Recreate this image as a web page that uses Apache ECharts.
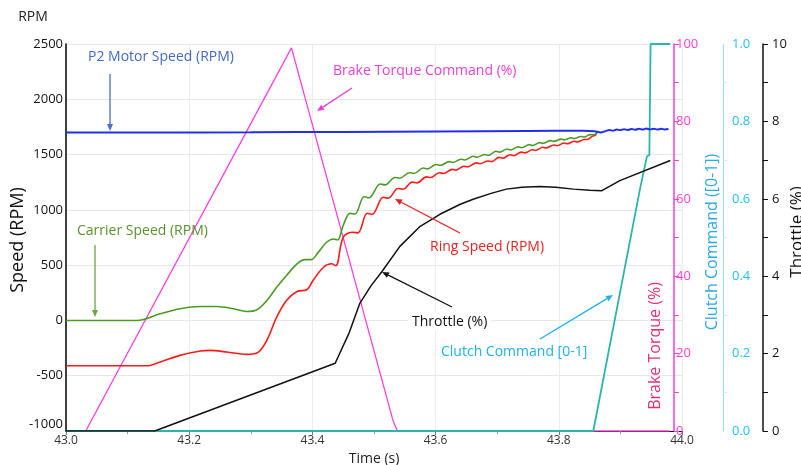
<!DOCTYPE html>
<html>
<head>
<meta charset="utf-8">
<script src="https://cdn.jsdelivr.net/npm/echarts@6/dist/echarts.min.js"></script>
<style>
  html, body { margin: 0; padding: 0; background: #fff; }
  #chart { width: 801px; height: 465px; }
</style>
</head>
<body>
<div id="chart"></div>
<script>
// ---- time axis ticks ----
const timeMin = 43.0, timeMax = 44.0, timeStep = 0.2;

// ---- P2 motor speed (RPM) ----
const motorSpeed = [
  [43.000,1700],[43.150,1700],[43.300,1702],[43.450,1705],[43.600,1709],[43.750,1713],
  [43.840,1716],[43.858,1712],[43.868,1700],[43.876,1712],[43.882,1722],[43.888,1716],
  [43.894,1727],[43.900,1720],[43.906,1730],[43.912,1722],[43.918,1732],[43.924,1724],
  [43.930,1734],[43.936,1726],[43.942,1735],[43.948,1727],[43.954,1734],[43.960,1726],
  [43.966,1733],[43.972,1727],[43.978,1731]
];

// ---- carrier speed (RPM) ----
const carrierSpeed = [
  [43.000,0],[43.115,0],[43.153,60],[43.185,105],[43.218,126],[43.245,126],[43.272,105],
  [43.293,81],[43.310,97],[43.326,180],[43.342,300],[43.358,406],[43.375,512],[43.388,550],
  [43.398,550],[43.410,620],[43.423,707],[43.434,737],[43.441,728],[43.450,860],[43.461,968],
  [43.469,962],[43.484,1119],[43.492,1110],[43.510,1234],[43.518,1226],[43.534,1293],
  [43.542,1286],[43.557,1336],[43.565,1329],[43.580,1378],[43.587,1371],[43.601,1410],
  [43.608,1403],[43.622,1436],[43.628,1428],[43.641,1458],[43.647,1451],[43.661,1485],
  [43.667,1476],[43.680,1500],[43.686,1494],[43.698,1530],[43.704,1522],[43.716,1550],
  [43.722,1542],[43.734,1570],[43.740,1562],[43.752,1590],[43.757,1582],[43.769,1608],
  [43.774,1601],[43.787,1626],[43.792,1619],[43.804,1640],[43.809,1633],[43.820,1652],
  [43.825,1645],[43.836,1664],[43.841,1659],[43.851,1680],[43.856,1678],[43.862,1700]
];

// ---- ring speed (RPM) ----
const ringSpeed = [
  [43.000,-410],[43.131,-410],[43.153,-376],[43.185,-316],[43.218,-277],[43.234,-271],
  [43.261,-286],[43.293,-307],[43.310,-295],[43.326,-180],[43.342,30],[43.358,180],
  [43.375,262],[43.391,277],[43.401,361],[43.418,481],[43.431,512],[43.438,495],
  [43.450,752],[43.466,798],[43.474,792],[43.489,969],[43.497,960],[43.515,1114],
  [43.523,1106],[43.539,1193],[43.547,1187],[43.562,1251],[43.570,1244],[43.585,1298],
  [43.592,1292],[43.606,1335],[43.613,1329],[43.627,1366],[43.633,1359],[43.646,1395],
  [43.652,1389],[43.666,1425],[43.672,1417],[43.685,1442],[43.691,1436],[43.703,1475],
  [43.709,1467],[43.721,1498],[43.727,1490],[43.739,1522],[43.745,1515],[43.757,1544],
  [43.762,1537],[43.774,1566],[43.779,1559],[43.792,1587],[43.797,1580],[43.809,1604],
  [43.814,1598],[43.825,1620],[43.830,1614],[43.841,1636],[43.846,1637],[43.855,1668],
  [43.859,1674],[43.862,1700]
];

// ---- brake torque command (%) ----
const brakeTorque = [
  [43.000,0],[43.032,0],[43.366,99],[43.531,2.6],[43.534,2.2],[43.538,0],[43.980,0]
];

// ---- clutch command [0-1] ----
const clutchCommand = [
  [43.000,0],[43.856,0],[43.932,0.627],[43.943,0.709],[43.947,0.713],[43.949,1.0],[43.981,1.0]
];

// ---- throttle (%) ----
const throttle = [
  [43.000,0],[43.144,0],[43.437,1.75],[43.460,2.55],[43.477,3.30],[43.495,3.75],[43.513,4.12],
  [43.542,4.77],[43.575,5.29],[43.607,5.60],[43.640,5.86],[43.661,5.99],[43.690,6.14],
  [43.715,6.25],[43.740,6.30],[43.769,6.32],[43.795,6.30],[43.824,6.25],[43.850,6.22],
  [43.870,6.21],[43.899,6.47],[43.981,6.99]
];

const FONT = '"Open Sans", "Noto Sans", sans-serif';

const chart = echarts.init(document.getElementById('chart'), null, { renderer: 'canvas' });

// small arrow: shaft + filled head, in pixel space
function arrow(x1, y1, x2, y2, color) {
  const a = Math.atan2(y2 - y1, x2 - x1);
  const L = 7, W = 3;
  const bx = x2 - L * Math.cos(a), by = y2 - L * Math.sin(a);
  return [
    { type: 'line', silent: true, z: 50,
      shape: { x1: x1, y1: y1, x2: bx, y2: by },
      style: { stroke: color, lineWidth: 1.3 } },
    { type: 'polygon', silent: true, z: 50,
      shape: { points: [[x2, y2], [bx + W * Math.sin(a), by - W * Math.cos(a)], [bx - W * Math.sin(a), by + W * Math.cos(a)]] },
      style: { fill: color } }
  ];
}

function label(text, x, y, color, opts) {
  opts = opts || {};
  return {
    type: 'text', silent: true, z: 60, x: x, y: y,
    rotation: opts.rotation || 0,
    style: Object.assign({
      text: text, fill: color,
      font: (opts.size || 14) + 'px ' + FONT,
      textAlign: opts.align || 'left', textVerticalAlign: 'middle'
    }, opts.style || {})
  };
}

const UP = Math.PI / 2;
const graphics = [].concat(
  [label('RPM', 33, 17, '#222', { align: 'center', size: 14 })],
  [label('Speed (RPM)', 18, 240, '#111', { align: 'center', size: 18, rotation: UP })],
  [label('Throttle (%)', 797, 232, '#111', { align: 'center', size: 17, rotation: UP })],
  [label('P2 Motor Speed (RPM)', 88, 57, '#4169c8')],
  arrow(110, 74, 110, 131, '#4a6fd0'),
  [label('Brake Torque Command (%)', 333, 71, '#ea3fd2')],
  arrow(352, 88, 317, 111, '#ea3fd2'),
  [label('Carrier Speed (RPM)', 77, 231, '#58912f')],
  arrow(95, 245, 95, 317, '#6aa83f'),
  [label('Ring Speed (RPM)', 430, 247, '#ea1f1f')],
  arrow(460, 233, 395, 199, '#ea1f1f'),
  arrow(452, 307, 382, 272, '#111'),
  [label('Throttle (%)', 408, 322, '#111', { style: { backgroundColor: '#fff', padding: [2, 4] } })],
  [label('Clutch Command [0-1]', 441, 352, '#1fb0ea')],
  arrow(540, 339, 613, 295, '#1fb0ea'),
  [label('Brake Torque (%)', 655, 346, '#e8306e', { align: 'center', size: 16, rotation: UP })],
  [label('Clutch Command ([0-1])', 712, 242, '#2aaae2', { align: 'center', size: 16, rotation: UP })]
);

const option = {
  animation: false,
  backgroundColor: '#fff',
  textStyle: { fontFamily: FONT },
  grid: { left: 66, right: 119, top: 44, bottom: 34, containLabel: false, outerBoundsMode: 'none' },
  xAxis: {
    type: 'value', min: timeMin, max: timeMax, interval: timeStep,
    name: 'Time (s)', nameLocation: 'middle', nameGap: 19,
    nameTextStyle: { color: '#222', fontSize: 14, fontFamily: FONT },
    axisLine: { show: true, onZero: false, lineStyle: { color: '#111', width: 1.2 } },
    axisTick: { show: true, length: 4, lineStyle: { color: '#777' } },
    minorTick: { show: true, splitNumber: 2, length: 3, lineStyle: { color: '#999' } },
    axisLabel: { color: '#333', fontSize: 12, margin: 4, formatter: v => v.toFixed(1) },
    splitLine: { show: true, lineStyle: { color: '#ececec', width: 1 } }
  },
  yAxis: [
    {
      type: 'value', position: 'left', min: -1000, max: 2500, interval: 500,
      axisLine: { show: true, onZero: false, lineStyle: { color: '#111', width: 1.6 } },
      axisTick: { show: false },
      axisLabel: { color: '#111', fontSize: 13, margin: 3, formatter: v => String(v),
                   verticalAlignMinLabel: 'bottom' },
      splitLine: { show: true, lineStyle: { color: '#e8e8e8', width: 1 } }
    },
    {
      type: 'value', position: 'right', offset: -8, min: 0, max: 100, interval: 20,
      axisLine: { show: true, onZero: false, lineStyle: { color: '#ff3fd0', width: 1.5 } },
      axisTick: { show: true, length: 5, lineStyle: { color: '#ff3fd0' } },
      minorTick: { show: true, splitNumber: 2, length: 5, lineStyle: { color: '#ff3fd0' } },
      axisLabel: { color: '#ff3fd0', fontSize: 13, margin: 2 },
      splitLine: { show: false }
    },
    {
      type: 'value', position: 'right', offset: 41, min: 0, max: 1, interval: 0.2,
      axisLine: { show: true, onZero: false, lineStyle: { color: '#a6dde6', width: 1.2 } },
      axisTick: { show: false },
      minorTick: { show: true, splitNumber: 2, length: 4, lineStyle: { color: '#c6ebef' } },
      axisLabel: { color: '#22c2f2', fontSize: 13, margin: 9, formatter: v => v.toFixed(1) },
      splitLine: { show: false }
    },
    {
      type: 'value', position: 'right', offset: 81, min: 0, max: 10, interval: 2,
      axisLine: { show: true, onZero: false, lineStyle: { color: '#111', width: 1.5 } },
      axisTick: { show: true, length: 5, lineStyle: { color: '#111' } },
      minorTick: { show: true, splitNumber: 2, length: 5, lineStyle: { color: '#111' } },
      axisLabel: { color: '#111', fontSize: 13, margin: 9 },
      splitLine: { show: false }
    }
  ],
  series: [
    { name: 'Brake Torque Command (%)', type: 'line', yAxisIndex: 1, data: brakeTorque,
      showSymbol: false, lineStyle: { color: '#ff3fe0', width: 1.3 }, z: 2 },
    { name: 'Clutch Command [0-1]', type: 'line', yAxisIndex: 2, data: clutchCommand,
      showSymbol: false, lineStyle: { color: '#2bb5ad', width: 1.8 }, z: 3 },
    { name: 'Throttle (%)', type: 'line', yAxisIndex: 3, data: throttle,
      showSymbol: false, lineStyle: { color: '#111', width: 1.5 }, z: 4 },
    { name: 'Ring Speed (RPM)', type: 'line', yAxisIndex: 0, data: ringSpeed,
      showSymbol: false, smooth: 0.35, lineStyle: { color: '#ff1a1a', width: 1.6 }, z: 5 },
    { name: 'Carrier Speed (RPM)', type: 'line', yAxisIndex: 0, data: carrierSpeed,
      showSymbol: false, smooth: 0.35, lineStyle: { color: '#4c9a26', width: 1.6 }, z: 6 },
    { name: 'P2 Motor Speed (RPM)', type: 'line', yAxisIndex: 0, data: motorSpeed,
      showSymbol: false, smooth: 0.3, lineStyle: { color: '#1f2ff0', width: 2 }, z: 7 }
  ],
  graphic: graphics
};

chart.setOption(option);
</script>
</body>
</html>
